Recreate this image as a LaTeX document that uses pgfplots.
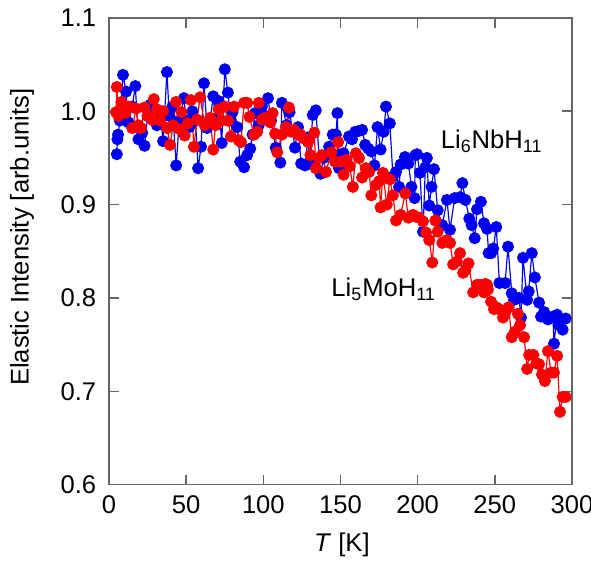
\documentclass[border=0pt]{standalone}
\usepackage{fontspec}
\setmainfont{Liberation Sans}
\usepackage{pgfplots}
\pgfplotsset{compat=1.18}
\definecolor{pblue}{RGB}{0,0,240}
\definecolor{pred}{RGB}{250,0,0}
\begin{document}
\begin{tikzpicture}
\begin{axis}[
  scale only axis, width=235pt, height=237pt,
  xmin=0, xmax=300, ymin=0.6, ymax=1.1,
  xtick={0,50,100,150,200,250,300},
  ytick={0.6,0.7,0.8,0.9,1.0,1.1},
  yticklabel style={/pgf/number format/fixed, /pgf/number format/fixed zerofill, /pgf/number format/precision=1, xshift=-3pt},
  /pgf/number format/assume math mode=true,
  tick align=inside, major tick length=5pt,
  axis line style={gray!80!black, line width=0.8pt},
  every tick/.style={gray!80!black, line width=0.8pt},
  ticklabel style={font=\fontsize{13}{15}\selectfont},
  xticklabel style={yshift=-2pt},
  label style={font=\fontsize{13}{15}\selectfont},
  xlabel={\textit{T} [K]},
  ylabel={Elastic Intensity [arb.units]},
  xlabel style={at={(axis description cs:0.503,-0.128)}, anchor=center},
  ylabel style={at={(axis description cs:-0.188,0.53)}, anchor=center},
  clip=false,
]
\addplot[pblue, line width=0.6pt, mark=*, mark size=2.75pt, mark options={draw=none, fill=pblue}] coordinates {
(5.0,0.954)(5.4,0.970)(5.8,0.975)(7,0.99)(9,1.039)(11,1.021)(12.5,0.988)(15,1.005)(17,1.027)(19,0.970)
(21.5,0.977)(23,0.963)(25,0.995)(26.7,1.007)(29,0.99)(31,0.985)(33,1.0)(35,0.968)(37.5,1.042)(39,0.995)
(41,1.005)(43.5,0.942)(45.5,0.99)(48.5,1.014)(50,0.99)(52,0.983)(54,1.0)(56,0.99)(57.7,0.939)(59.6,0.962)
(61.5,1.030)(63.5,0.982)(65.5,0.99)(67.5,1.016)(69,0.99)(71,1.011)(73,0.966)(75,1.045)(77,1.020)(79,0.99)
(80,0.999)(83,0.983)(85,0.946)(87.5,0.940)(89.5,0.953)(91.5,0.960)(93,0.975)(94.6,0.998)(97,0.985)(99,1.005)
(101,0.995)(103,1.014)(105,0.99)(108,0.961)(111,0.945)(112,1.009)(115,0.985)(117,0.999)(120.5,0.961)(122.5,0.983)
(124.5,0.944)(127,0.942)(129,0.972)(130,0.944)(132,0.996)(134,1.001)(137,0.933)(139,0.95)(142.6,0.962)(145,0.975)
(147,0.975)(148,0.998)(148.5,0.953)(149,0.939)(152,0.955)(155.5,0.973)(157.5,0.97)(159.5,0.978)(162,0.979)(164,0.980)
(166,0.964)(168,0.96)(170,0.957)(172,0.942)(174,0.983)(176,0.959)(178,0.978)(179.5,1.005)(182,0.987)(184,0.930)
(186,0.935)(188,0.919)(189,0.943)(191.8,0.951)(194,0.944)(196,0.919)(198,0.907)(198.5,0.953)(199.6,0.954)(201.5,0.934)
(203.5,0.871)(205,0.940)(206,0.950)(207.5,0.899)(209,0.919)(210.6,0.938)(213,0.894)(216,0.878)(219,0.905)(221,0.873)
(224,0.907)(227.5,0.908)(229,0.923)(231,0.905)(233.5,0.885)(235,0.878)(237,0.864)(238.5,0.895)(241,0.903)(243,0.88)
(245,0.874)(246,0.848)(247.6,0.848)(249,0.853)(251,0.876)(253,0.816)(256.7,0.816)(258.6,0.855)(261,0.805)(262.5,0.798)
(265.7,0.800)(267,0.779)(268.3,0.843)(271,0.798)(272,0.807)(274,0.848)(276,0.822)(278.7,0.795)(280,0.780)(282,0.785)
(284.5,0.777)(287.7,0.780)(288.4,0.751)(290.4,0.782)(291.6,0.771)(294,0.766)(296,0.778)
};
\addplot[pred, line width=0.6pt, mark=*, mark size=2.75pt, mark options={draw=none, fill=pred}] coordinates {
(4.5,0.999)(5,1.026)(6,0.995)(8,1.010)(10,0.998)(13,1.005)(15,0.982)(17.5,1.003)(19,0.985)(20.7,0.982)
(23,1.004)(25,0.995)(28,0.991)(29,1.013)(31,1.002)(33,0.99)(35,1.000)(37.6,0.982)(39.5,0.964)(41.5,0.985)
(43.4,1.010)(45.4,0.981)(47,0.999)(49,0.974)(51,0.987)(53,1.012)(55,0.962)(57,0.991)(59,1.015)(62,0.985)
(65.5,0.993)(67.5,0.959)(69,0.985)(71,1.002)(73,0.99)(75,1.005)(77,0.99)(79,0.973)(81,1.005)(84,0.969)
(85.5,0.967)(87.5,1.009)(89.5,1.009)(91,0.994)(94,0.975)(96,0.978)(97,1.009)(99,0.991)(101,0.993)(104.5,0.988)
(106,0.998)(107.6,0.976)(109,0.956)(112,0.975)(114.7,0.983)(116.6,1.004)(118,0.978)(120,0.98)(122.5,0.975)(124,0.975)
(126,0.971)(129,0.967)(130.5,0.953)(133,0.977)(134,0.939)(136,0.95)(138,0.953)(140.6,0.935)(144,0.956)(146.5,0.946)
(148.5,0.967)(150,0.946)(152,0.932)(154,0.948)(156,0.941)(158,0.919)(160,0.955)(162,0.950)(164,0.929)(166.5,0.939)
(168.5,0.935)(170,0.910)(173,0.921)(175,0.925)(176,0.897)(177.5,0.934)(180,0.900)(182,0.927)(184,0.91)(186,0.883)
(189,0.889)(192,0.912)(194,0.886)(197,0.889)(199,0.887)(201,0.886)(203.5,0.882)(205.5,0.87)(207.5,0.862)(209.5,0.838)
(211.5,0.883)(213,0.871)(216,0.859)(219,0.862)(221,0.859)(223,0.836)(225.5,0.839)(227.5,0.848)(229.5,0.827)(231,0.83)
(233,0.837)(236,0.806)(238.5,0.814)(240.5,0.814)(243,0.806)(244,0.815)(245,0.814)(245.6,0.809)(247.6,0.796)(249.5,0.788)
(251,0.79)(252.8,0.788)(255.3,0.779)(257,0.785)(259,0.790)(261,0.758)(263,0.764)(265,0.783)(266.4,0.771)(269,0.758)
(271,0.724)(272.3,0.739)(275,0.739)(277,0.730)(278.7,0.729)(280.6,0.718)(282.5,0.711)(284.5,0.743)(286.5,0.720)(288.4,0.720)
(290.4,0.738)(292.3,0.678)(294,0.694)(296,0.694)
};
\node[font=\fontsize{13}{15}\selectfont] at (axis cs:248,0.968) {Li\textsubscript{6}NbH\textsubscript{11}};
\node[font=\fontsize{13}{15}\selectfont] at (axis cs:178,0.809) {Li\textsubscript{5}MoH\textsubscript{11}};
\end{axis}
\pgfresetboundingbox
\path[use as bounding box] (-55.4pt,-38.6pt) rectangle (244.7pt,246.1pt);
\end{tikzpicture}
\end{document}
